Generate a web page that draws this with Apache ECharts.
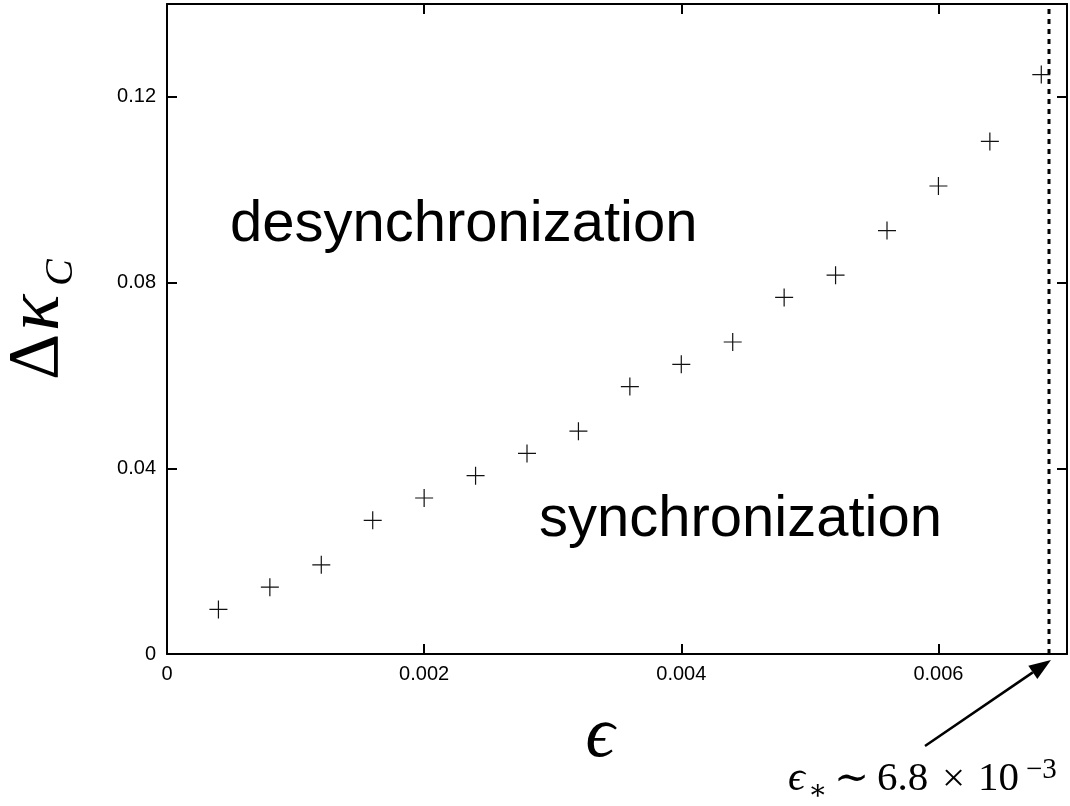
<!DOCTYPE html>
<html>
<head>
<meta charset="utf-8">
<script src="https://cdn.jsdelivr.net/npm/echarts@6/dist/echarts.min.js"></script>
<style>
  html, body { margin: 0; padding: 0; background: #fff; }
  #chart { width: 1070px; height: 806px; }
</style>
</head>
<body>
<div id="chart"></div>
<script>
// ---- data ----
const epsilon = [0.0004, 0.0008, 0.0012, 0.0016, 0.0020, 0.0024, 0.0028, 0.0032, 0.0036,
                 0.0040, 0.0044, 0.0048, 0.0052, 0.0056, 0.0060, 0.0064, 0.0068];
const deltaKappaC = [0.0096, 0.0144, 0.0192, 0.0288, 0.0336, 0.0384, 0.0432, 0.0480, 0.0576,
                     0.0624, 0.0672, 0.0768, 0.0816, 0.0912, 0.1008, 0.1104, 0.1248];
const xTicks = [0, 0.002, 0.004, 0.006];
const yTicks = [0, 0.04, 0.08, 0.12];
const xRange = [0, 0.007];
const yRange = [0, 0.14];
const epsStar = 0.00686;
const regionLabels = ['desynchronization', 'synchronization'];

const chart = echarts.init(document.getElementById('chart'), null, { renderer: 'canvas' });

const sans = '"Liberation Sans", Arial, Helvetica, sans-serif';
const serif = '"Liberation Serif", "DejaVu Serif", "Times New Roman", serif';

function axisCommon(labelShow) {
  return {
    type: 'value',
    axisLine: { show: true, onZero: false, lineStyle: { color: '#000', width: 2 } },
    axisTick: { show: true, inside: true, length: 10, lineStyle: { color: '#000', width: 2 } },
    splitLine: { show: false },
    axisLabel: {
      show: labelShow, color: '#000', fontSize: 20, fontFamily: sans,
      showMaxLabel: false,
      formatter: function (v) { return String(+v.toFixed(6)); }
    }
  };
}

const xInterval = xTicks[1] - xTicks[0];
const yInterval = yTicks[1] - yTicks[0];

const xBottom = Object.assign(axisCommon(true), { position: 'bottom', min: xRange[0], max: xRange[1], interval: xInterval });
xBottom.axisLabel.margin = 10;
const xTop = Object.assign(axisCommon(false), { position: 'top', min: xRange[0], max: xRange[1], interval: xInterval });
const yLeft = Object.assign(axisCommon(true), { position: 'left', min: yRange[0], max: yRange[1], interval: yInterval });
yLeft.axisLabel.margin = 11;
const yRight = Object.assign(axisCommon(false), { position: 'right', min: yRange[0], max: yRange[1], interval: yInterval });

const plusPath = 'path://M0,8.4h18v1.2h-18z M8.4,0h1.2v18h-1.2z';

// arrow geometry (annotation)
const tail = [925, 746], tip = [1051, 660];
const dx = tip[0] - tail[0], dy = tip[1] - tail[1];
const len = Math.sqrt(dx * dx + dy * dy);
const ux = dx / len, uy = dy / len, nx = -uy, ny = ux;
const headL = 22, headW = 8;
const bx = tip[0] - headL * ux, by = tip[1] - headL * uy;

const option = {
  backgroundColor: '#fff',
  animation: false,
  textStyle: { fontFamily: sans },
  grid: { left: 167, right: 3, top: 4, bottom: 152, containLabel: false },
  xAxis: [xBottom, xTop],
  yAxis: [yLeft, yRight],
  series: [{
    type: 'line',
    xAxisIndex: 0, yAxisIndex: 0,
    data: [[epsStar, yRange[0]], [epsStar, yRange[1]]],
    symbol: 'none',
    silent: true,
    z: 1,
    lineStyle: { color: '#000', width: 3, type: [5, 5] }
  }, {
    type: 'scatter',
    xAxisIndex: 0, yAxisIndex: 0,
    data: epsilon.map((e, i) => [e, deltaKappaC[i]]),
    symbol: plusPath,
    symbolSize: 18,
    symbolKeepAspect: true,
    itemStyle: { color: '#111', opacity: 1 },
    silent: true,
    z: 2
  }],
  graphic: [
    { type: 'text', x: 230, y: 225, style: { text: regionLabels[0], fontSize: 58, fontFamily: sans, fill: '#000', align: 'left', verticalAlign: 'middle' } },
    { type: 'text', x: 539, y: 520, style: { text: regionLabels[1], fontSize: 58, fontFamily: sans, fill: '#000', align: 'left', verticalAlign: 'middle' } },
    // x-axis title
    { type: 'text', x: 600, y: 737, style: { text: 'ϵ', fontSize: 72, fontStyle: 'italic', fontFamily: serif, fill: '#000', align: 'center', verticalAlign: 'middle' } },
    // y-axis title (rotated)
    { type: 'group', x: 63, y: 380, rotation: Math.PI / 2, children: [
      { type: 'text', x: 0, y: -25, style: { text: 'Δ', fontSize: 72, fontFamily: serif, fill: '#000', align: 'left', verticalAlign: 'middle' } },
      { type: 'text', x: 49, y: -25, style: { text: 'κ', fontSize: 76, fontStyle: 'italic', fontFamily: serif, fill: '#000', align: 'left', verticalAlign: 'middle' } },
      { type: 'text', x: 94, y: -2, style: { text: 'C', fontSize: 40, fontStyle: 'italic', fontFamily: serif, fill: '#000', align: 'left', verticalAlign: 'middle' } }
    ] },
    // annotation
    { type: 'line', shape: { x1: tail[0], y1: tail[1], x2: bx, y2: by }, style: { stroke: '#000', lineWidth: 2.5 } },
    { type: 'polygon', shape: { points: [tip, [bx + headW * nx, by + headW * ny], [bx - headW * nx, by - headW * ny]] }, style: { fill: '#000' } },
    { type: 'text', x: 788, y: 779, style: { text: 'ϵ', fontSize: 42, fontStyle: 'italic', fontFamily: serif, fill: '#000', align: 'left', verticalAlign: 'middle' } },
    { type: 'text', x: 808, y: 792, style: { text: '∗', fontSize: 28, fontFamily: serif, fill: '#000', align: 'left', verticalAlign: 'middle' } },
    { type: 'text', x: 834, y: 780, style: { text: '∼', fontSize: 42, fontFamily: serif, fill: '#000', align: 'left', verticalAlign: 'middle' } },
    { type: 'text', x: 877, y: 779, style: { text: '6.8', fontSize: 41, fontFamily: serif, fill: '#000', align: 'left', verticalAlign: 'middle' } },
    { type: 'text', x: 942, y: 780, style: { text: '×', fontSize: 41, fontFamily: serif, fill: '#000', align: 'left', verticalAlign: 'middle' } },
    { type: 'text', x: 978, y: 779, style: { text: '10', fontSize: 41, fontFamily: serif, fill: '#000', align: 'left', verticalAlign: 'middle' } },
    { type: 'text', x: 1026, y: 770, style: { text: '−3', fontSize: 29, fontFamily: serif, fill: '#000', align: 'left', verticalAlign: 'middle' } }
  ]
};
chart.setOption(option);
</script>
</body>
</html>
